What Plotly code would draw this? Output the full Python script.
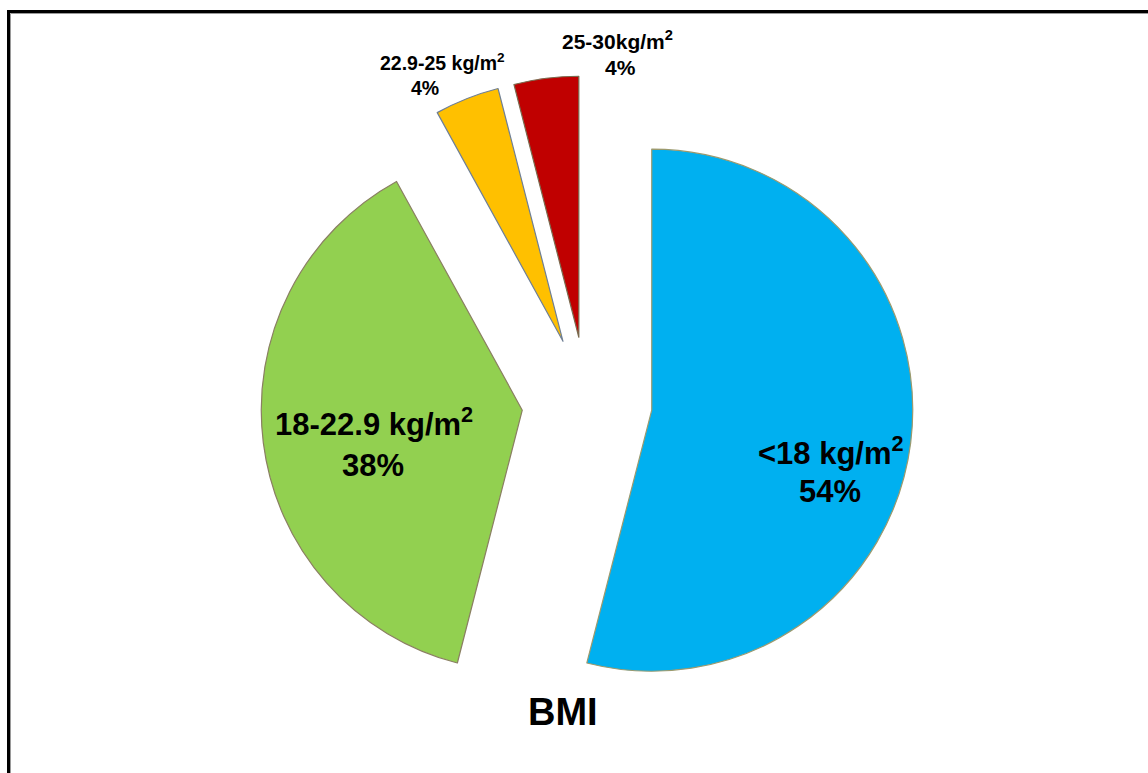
import plotly.graph_objects as go

# BMI distribution (percent of respondents)
categories = ["<18 kg/m<sup>2</sup>", "18-22.9 kg/m<sup>2</sup>",
              "22.9-25 kg/m<sup>2</sup>", "25-30kg/m<sup>2</sup>"]
shares = [54, 38, 4, 4]
slice_colors = ["#00B0F0", "#92D050", "#FFC000", "#C00000"]
edge_colors = ["#9C9A6E", "#8A7F62", "#6F7F95", "#7A6A4E"]
title_text = "BMI"

W, H = 1148, 773
FONT = "Liberation Sans, Arial, sans-serif"

# pie geometry in pixels (centre, radius, explode fraction)
cx, cy, radius, pull = 587, 402, 261, 0.25
half = radius * (1 + pull)


def px(x):
    return x / W


def py(y):
    return 1 - y / H


fig = go.Figure(
    go.Pie(
        labels=categories,
        values=shares,
        sort=False,
        direction="clockwise",
        rotation=0,
        pull=[pull] * len(shares),
        marker=dict(colors=slice_colors, line=dict(color=edge_colors, width=1.2)),
        textinfo="none",
        hoverinfo="skip",
        showlegend=False,
        domain=dict(x=[px(cx - half), px(cx + half)],
                    y=[py(cy + half), py(cy - half)]),
    )
)

# data labels: category line and share line, placed per slice
# (x of category, y of category, x of share, y of share, font size)
label_layout = [
    (831, 451, 830, 491, 31),
    (374, 422, 373, 465, 31),
    (442, 62, 425, 88, 19.5),
    (617, 40, 620, 67, 21),
]
annotations = []
for cat, val, (x1, y1, x2, y2, fs) in zip(categories, shares, label_layout):
    annotations.append(dict(x=px(x1), y=py(y1), text="<b>%s</b>" % cat, size=fs))
    annotations.append(dict(x=px(x2), y=py(y2), text="<b>%d%%</b>" % val, size=fs))

annotations.append(dict(x=px(563), y=py(712), text="<b>%s</b>" % title_text, size=38))

for a in annotations:
    size = a.pop("size")
    a.update(xref="paper", yref="paper", showarrow=False,
             xanchor="center", yanchor="middle",
             font=dict(family=FONT, color="black", size=size))

# frame around the slide area (left and top edges are visible)
shapes = [
    dict(type="rect", xref="paper", yref="paper",
         x0=px(8.5), x1=1.05, y0=-0.05, y1=py(11.5),
         line=dict(color="black", width=3)),
    dict(type="rect", xref="paper", yref="paper",
         x0=px(10.5), x1=1.05, y0=-0.05, y1=py(13.5),
         line=dict(color="#9a9a9a", width=1)),
]

fig.update_layout(
    width=W, height=H,
    margin=dict(l=0, r=0, t=0, b=0),
    paper_bgcolor="white",
    plot_bgcolor="white",
    annotations=annotations,
    shapes=shapes,
)

fig.write_html("out.html", config={"displayModeBar": False})
